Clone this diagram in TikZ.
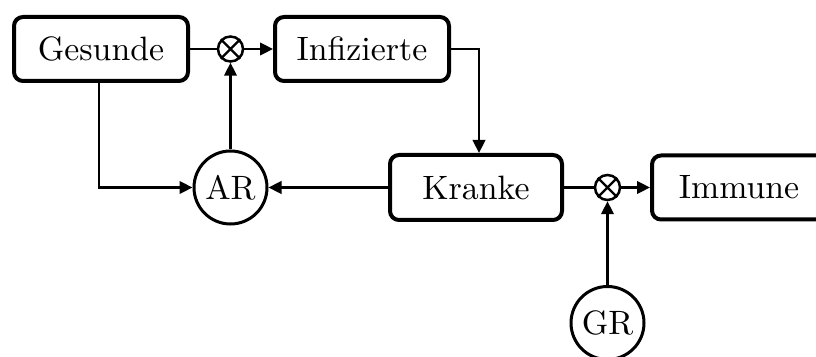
\documentclass[tikz,border=0pt]{standalone}
\usepackage{fontspec}
\setmainfont{lmroman10-regular}[Extension=.otf]
\usetikzlibrary{arrows.meta}
\begin{document}
\begin{tikzpicture}[x=1pt,y=1pt,
  blockbox/.style={draw,line width=4pt,rounded corners=9pt,minimum width=174pt,minimum height=64pt,inner sep=0pt,font=\fontsize{33.8}{40}\selectfont},
  rcircle/.style={draw,circle,line width=3pt,minimum size=73pt,inner sep=0pt,font=\fontsize{33.8}{40}\selectfont},
  mult/.style={draw,circle,line width=2.5pt,minimum size=25pt,inner sep=0pt},
  conn/.style={line width=2.5pt},
  arr/.style={conn,-{Triangle[length=13pt,width=12.5pt]}}
]
\useasboundingbox (0,0) rectangle (816,356);
\node[blockbox] (G) at (101,307) {Gesunde};
\node[blockbox] (I) at (362,307) {Infizierte};
\node[blockbox,minimum width=172pt,minimum height=65pt] (K) at (476,168.5) {Kranke};
\node[blockbox] (Im) at (739,168.5) {Immune};
\node[mult] (M1) at (230.5,307) {};
\draw[line width=2.2pt] (M1.north west) -- (M1.south east) (M1.north east) -- (M1.south west);
\node[mult] (M2) at (607.5,168.5) {};
\draw[line width=2.2pt] (M2.north west) -- (M2.south east) (M2.north east) -- (M2.south west);
\node[rcircle] (AR) at (230.5,168.5) {AR};
\node[rcircle] (GR) at (607.5,33) {GR};
\coordinate (gdown) at (99,273);
\coordinate (gcorner) at (99,168.5);
\coordinate (icorner) at (479,307);
\draw[conn] (G.east) -- (M1.west);
\draw[arr] (M1.east) -- (I.west);
\draw[arr] (AR.north) -- (M1.south);
\draw[arr] (gdown) -- (gcorner) -- (AR.west);
\draw[arr] (K.west) -- (AR.east);
\draw[arr] (I.east) -- (icorner) -- (icorner |- K.north);
\draw[conn] (K.east) -- (M2.west);
\draw[arr] (M2.east) -- (Im.west);
\draw[arr] (GR.north) -- (M2.south);
\end{tikzpicture}
\end{document}
